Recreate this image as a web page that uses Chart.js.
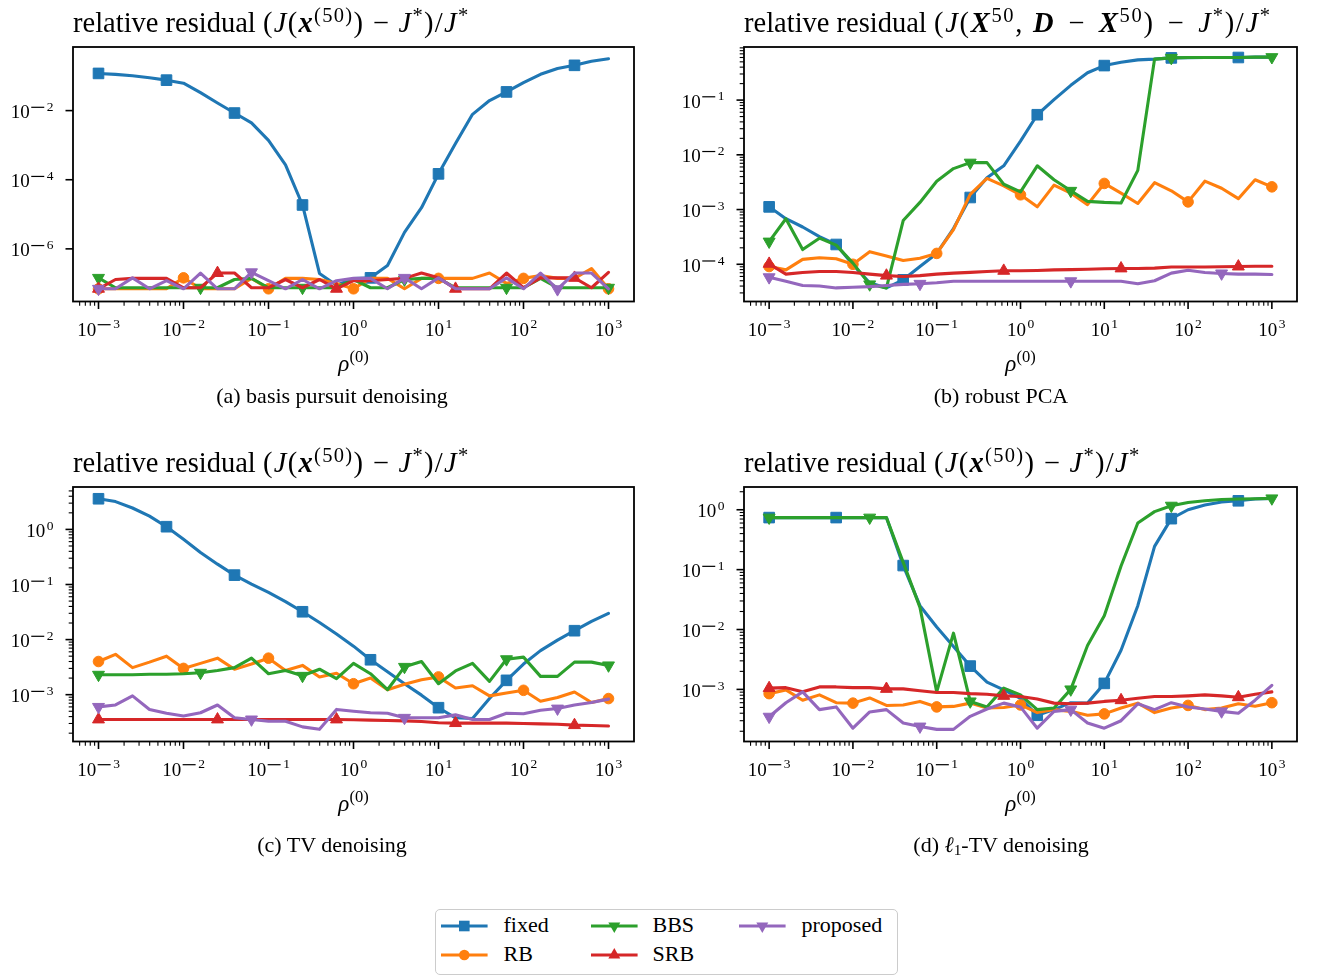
<!DOCTYPE html>
<html><head><meta charset="utf-8">
<script src="https://cdn.jsdelivr.net/npm/chart.js@4.4.1/dist/chart.umd.min.js"></script>
<style>
html,body{margin:0;padding:0;background:#fff;}
#wrap{position:relative;width:1318px;height:977px;overflow:hidden;font-family:"Liberation Serif",serif;color:#000;}
canvas{position:absolute;left:0;top:0;}
.t{position:absolute;white-space:nowrap;line-height:1;}
.sup{position:relative;font-size:0.72em;top:-0.5em;}
.sub{position:relative;font-size:0.7em;top:0.25em;}
.m{letter-spacing:1.3px;}
.mb{letter-spacing:1.7px;}
#legend{position:absolute;left:435px;top:909px;width:463px;height:66px;box-sizing:border-box;border:1.5px solid #cccccc;border-radius:5px;background:#fff;}
</style></head><body><div id="wrap"><div id="legend"></div></div>
<script>
// ---------- data ----------
const rho = [0.001, 0.001585, 0.002512, 0.003981, 0.00631, 0.01, 0.01585, 0.02512, 0.03981, 0.0631, 0.1, 0.1585, 0.2512, 0.3981, 0.631, 1, 1.585, 2.512, 3.981, 6.31, 10, 15.85, 25.12, 39.81, 63.1, 100, 158.5, 251.2, 398.1, 631, 1000];

const seriesNames = ['fixed', 'RB', 'BBS', 'SRB', 'proposed'];

// (a) basis pursuit denoising
const bpdnFixed = [0.119, 0.112, 0.102, 0.089, 0.076, 0.062, 0.033, 0.0166, 0.0085, 0.0044, 1.38e-3, 2.7e-4, 1.86e-5, 1.95e-7, 8.9e-8, 1.38e-7, 1.45e-7, 3.3e-7, 3.0e-6, 1.55e-5, 1.48e-4, 1.12e-3, 7.8e-3, 0.0195, 0.0347, 0.0646, 0.112, 0.166, 0.204, 0.269, 0.316];
const bpdnRB = [7e-8, 7e-8, 7e-8, 7e-8, 7e-8, 1.45e-7, 7e-8, 7e-8, 7e-8, 1.4e-7, 7e-8, 1.4e-7, 1.4e-7, 1.3e-7, 1.0e-7, 7e-8, 1.4e-7, 1.4e-7, 7e-8, 1.4e-7, 1.4e-7, 1.4e-7, 1.4e-7, 2.0e-7, 1.0e-7, 1.4e-7, 1.7e-7, 1.4e-7, 1.4e-7, 2.7e-7, 7e-8];
const bpdnBBS = [1.45e-7, 7.5e-8, 7.5e-8, 7.5e-8, 7.5e-8, 7.5e-8, 7.5e-8, 7.5e-8, 1.3e-7, 1.4e-7, 7.5e-8, 7.5e-8, 7.5e-8, 7.5e-8, 7.5e-8, 1.3e-7, 7.5e-8, 7.5e-8, 1.3e-7, 1.4e-7, 1.4e-7, 7.5e-8, 7.5e-8, 7.5e-8, 7.5e-8, 7.5e-8, 1.4e-7, 7.5e-8, 7.5e-8, 7.5e-8, 7.5e-8];
const bpdnSRB = [7e-8, 1.3e-7, 1.4e-7, 1.4e-7, 1.4e-7, 7.5e-8, 7.5e-8, 2.0e-7, 2.0e-7, 7.5e-8, 7.5e-8, 1.3e-7, 7.5e-8, 1.3e-7, 7e-8, 1.2e-7, 1.2e-7, 1.3e-7, 1.4e-7, 2.0e-7, 1.45e-7, 7e-8, 7e-8, 7e-8, 2.0e-7, 7.5e-8, 1.45e-7, 1.45e-7, 1.45e-7, 7.5e-8, 2.1e-7];
const bpdnProp = [7e-8, 7e-8, 1.45e-7, 7e-8, 1.2e-7, 7e-8, 2.0e-7, 7e-8, 7e-8, 2.1e-7, 1.2e-7, 7e-8, 1.3e-7, 7e-8, 1.2e-7, 1.4e-7, 1.4e-7, 7e-8, 1.45e-7, 7e-8, 1.45e-7, 7e-8, 7e-8, 7e-8, 1.45e-7, 7e-8, 2.0e-7, 6.8e-8, 2.0e-7, 2.0e-7, 7e-8];

// (b) robust PCA
const rpcaFixed = [1.12e-3, 6.8e-4, 4.8e-4, 3.2e-4, 2.3e-4, 9.8e-5, 4.6e-5, 3.7e-5, 5.2e-5, 9.1e-5, 1.58e-4, 4.5e-4, 1.66e-3, 3.8e-3, 6.3e-3, 0.0178, 0.054, 0.102, 0.186, 0.316, 0.427, 0.49, 0.543, 0.56, 0.59, 0.595, 0.6, 0.6, 0.6, 0.61, 0.61];
const rpcaRB = [9.1e-5, 7.9e-5, 1.23e-4, 1.32e-4, 1.26e-4, 1.0e-4, 1.7e-4, 1.41e-4, 1.17e-4, 1.29e-4, 1.58e-4, 4.3e-4, 1.9e-3, 3.7e-3, 2.7e-3, 1.86e-3, 1.12e-3, 2.8e-3, 2.0e-3, 1.23e-3, 3.0e-3, 2.0e-3, 1.29e-3, 3.1e-3, 2.2e-3, 1.38e-3, 3.3e-3, 2.45e-3, 1.58e-3, 3.5e-3, 2.6e-3];
const rpcaBBS = [2.6e-4, 6.8e-4, 1.86e-4, 3.0e-4, 2.24e-4, 1.05e-4, 4.3e-5, 3.7e-5, 6.3e-4, 1.35e-3, 3.3e-3, 5.6e-3, 7.2e-3, 7.2e-3, 2.9e-3, 2.1e-3, 6.3e-3, 3.5e-3, 2.2e-3, 1.41e-3, 1.35e-3, 1.32e-3, 5.2e-3, 0.56, 0.59, 0.6, 0.6, 0.6, 0.6, 0.61, 0.61];
const rpcaSRB = [1.02e-4, 6.6e-5, 7.1e-5, 7.4e-5, 7.4e-5, 7.1e-5, 6.6e-5, 6.2e-5, 6.0e-5, 6.2e-5, 6.6e-5, 6.9e-5, 7.1e-5, 7.4e-5, 7.6e-5, 7.6e-5, 7.7e-5, 7.9e-5, 8.0e-5, 8.1e-5, 8.3e-5, 8.4e-5, 8.4e-5, 8.5e-5, 8.9e-5, 8.9e-5, 8.9e-5, 9.0e-5, 9.1e-5, 9.2e-5, 9.2e-5];
const rpcaProp = [5.8e-5, 4.9e-5, 4.1e-5, 4.0e-5, 3.7e-5, 3.8e-5, 3.9e-5, 4.1e-5, 4.3e-5, 4.4e-5, 4.6e-5, 4.9e-5, 4.9e-5, 4.9e-5, 4.9e-5, 4.9e-5, 4.9e-5, 4.9e-5, 4.9e-5, 4.9e-5, 4.9e-5, 4.9e-5, 4.4e-5, 5.0e-5, 6.9e-5, 7.8e-5, 7.1e-5, 6.8e-5, 6.6e-5, 6.6e-5, 6.5e-5];

// (c) TV denoising
const tvFixed = [3.6, 3.2, 2.45, 1.74, 1.12, 0.66, 0.38, 0.234, 0.148, 0.102, 0.072, 0.049, 0.032, 0.0204, 0.0126, 7.6e-3, 4.3e-3, 2.6e-3, 1.58e-3, 9.8e-4, 5.8e-4, 3.8e-4, 3.7e-4, 8.5e-4, 1.82e-3, 3.6e-3, 6.3e-3, 9.8e-3, 0.0145, 0.0214, 0.030];
const tvRB = [4.0e-3, 5.4e-3, 3.1e-3, 3.9e-3, 5.0e-3, 3.0e-3, 3.7e-3, 4.6e-3, 2.9e-3, 3.6e-3, 4.6e-3, 2.75e-3, 3.4e-3, 2.1e-3, 2.45e-3, 1.58e-3, 2.0e-3, 1.23e-3, 1.55e-3, 1.86e-3, 2.1e-3, 1.32e-3, 1.45e-3, 9.5e-4, 1.07e-3, 1.2e-3, 7.6e-4, 8.9e-4, 1.12e-3, 7.2e-4, 8.5e-4];
const tvBBS = [2.3e-3, 2.3e-3, 2.3e-3, 2.35e-3, 2.35e-3, 2.4e-3, 2.5e-3, 2.75e-3, 3.1e-3, 4.6e-3, 2.4e-3, 2.75e-3, 2.2e-3, 2.9e-3, 1.95e-3, 3.7e-3, 2.4e-3, 1.23e-3, 3.2e-3, 4.0e-3, 1.58e-3, 2.7e-3, 3.7e-3, 1.74e-3, 4.4e-3, 4.8e-3, 2.15e-3, 2.15e-3, 3.9e-3, 3.9e-3, 3.4e-3];
const tvSRB = [3.55e-4, 3.55e-4, 3.55e-4, 3.55e-4, 3.55e-4, 3.55e-4, 3.55e-4, 3.55e-4, 3.55e-4, 3.55e-4, 3.55e-4, 3.55e-4, 3.55e-4, 3.55e-4, 3.55e-4, 3.5e-4, 3.45e-4, 3.4e-4, 3.35e-4, 3.25e-4, 3.1e-4, 3.05e-4, 3.05e-4, 3.05e-4, 3.05e-4, 3.0e-4, 2.95e-4, 2.9e-4, 2.8e-4, 2.75e-4, 2.7e-4];
const tvProp = [6.0e-4, 6.5e-4, 9.5e-4, 5.4e-4, 4.6e-4, 4.1e-4, 4.7e-4, 6.5e-4, 3.8e-4, 3.55e-4, 3.3e-4, 3.3e-4, 2.6e-4, 2.35e-4, 5.4e-4, 5.0e-4, 4.7e-4, 4.6e-4, 3.8e-4, 3.8e-4, 3.8e-4, 4.3e-4, 3.55e-4, 3.55e-4, 4.6e-4, 4.5e-4, 5.2e-4, 5.6e-4, 6.5e-4, 7.2e-4, 8.3e-4];

// (d) l1-TV denoising
const l1tvFixed = [0.74, 0.74, 0.74, 0.74, 0.74, 0.74, 0.74, 0.74, 0.117, 0.025, 0.011, 5.2e-3, 2.45e-3, 1.32e-3, 9.8e-4, 7.1e-4, 3.7e-4, 4.6e-4, 6.0e-4, 5.9e-4, 1.26e-3, 4.5e-3, 0.025, 0.245, 0.71, 1.0, 1.2, 1.35, 1.41, 1.51, 1.55];
const l1tvRB = [8.5e-4, 9.8e-4, 6.6e-4, 8.1e-4, 6.0e-4, 5.9e-4, 7.2e-4, 5.4e-4, 5.5e-4, 6.3e-4, 5.1e-4, 5.2e-4, 5.9e-4, 4.9e-4, 5.0e-4, 5.5e-4, 4.1e-4, 4.6e-4, 4.3e-4, 3.7e-4, 3.9e-4, 4.9e-4, 5.9e-4, 4.1e-4, 4.9e-4, 5.4e-4, 4.6e-4, 4.9e-4, 5.75e-4, 5.25e-4, 6.0e-4];
const l1tvBBS = [0.74, 0.74, 0.74, 0.74, 0.74, 0.74, 0.74, 0.74, 0.132, 0.0234, 9.1e-4, 8.7e-3, 6.3e-4, 5.1e-4, 1.05e-3, 8.1e-4, 4.6e-4, 4.9e-4, 1.0e-3, 5.4e-3, 0.017, 0.115, 0.6, 0.93, 1.17, 1.32, 1.41, 1.48, 1.51, 1.53, 1.55];
const l1tvSRB = [1.05e-3, 1.07e-3, 9.1e-4, 1.1e-3, 1.1e-3, 1.07e-3, 1.07e-3, 1.02e-3, 1.02e-3, 9.5e-4, 8.9e-4, 8.9e-4, 8.5e-4, 8.3e-4, 7.8e-4, 7.6e-4, 6.9e-4, 5.9e-4, 5.75e-4, 5.9e-4, 6.3e-4, 6.6e-4, 7.1e-4, 7.6e-4, 7.6e-4, 7.8e-4, 8.1e-4, 7.8e-4, 7.4e-4, 8.3e-4, 9.1e-4];
const l1tvProp = [3.5e-4, 6.0e-4, 9.1e-4, 4.6e-4, 5.1e-4, 2.25e-4, 4.2e-4, 4.6e-4, 2.75e-4, 2.4e-4, 2.15e-4, 2.15e-4, 3.55e-4, 4.7e-4, 5.9e-4, 5.1e-4, 2.25e-4, 4.3e-4, 4.6e-4, 2.75e-4, 2.25e-4, 3.0e-4, 5.75e-4, 4.6e-4, 6.0e-4, 5.1e-4, 4.7e-4, 4.3e-4, 4.0e-4, 6.6e-4, 1.17e-3];

// tick labels (exponents of 10)
const xTickExps = [-3, -2, -1, 0, 1, 2, 3];
const yTickExpsA = [-2, -4, -6];
const yTickExpsB = [-1, -2, -3, -4];
const yTickExpsC = [0, -1, -2, -3];
const yTickExpsD = [0, -1, -2, -3];

// ---------- styles ----------
const COLORS = ['#1f77b4', '#ff7f0e', '#2ca02c', '#d62728', '#9467bd'];
const STYLES = [
  {pointStyle: 'rect', rot: 0, r: 7.5, every: 4},
  {pointStyle: 'circle', rot: 0, r: 5.3, every: 5},
  {pointStyle: 'triangle', rot: 180, r: 6.9, every: 6},
  {pointStyle: 'triangle', rot: 0, r: 6.9, every: 7},
  {pointStyle: 'triangle', rot: 180, r: 6.9, every: 9}
];
const LINE_W = 3.1;
const TICK_FONT = '19px "Liberation Serif"';
const EXP_FONT = '13.5px "Liberation Serif"';

function drawPow(ctx, exp, x, baseY, align) {
  ctx.font = TICK_FONT;
  const wB = ctx.measureText('10').width;
  const neg = exp < 0;
  const dStr = String(Math.abs(exp));
  ctx.font = EXP_FONT;
  const wD = ctx.measureText(dStr).width;
  const total = wB + 1.5 + (neg ? 15.5 : 0) + wD;
  const x0 = align === 'center' ? x - total / 2 : x - total;
  ctx.fillStyle = '#000';
  ctx.textAlign = 'left';
  ctx.textBaseline = 'alphabetic';
  ctx.font = TICK_FONT;
  ctx.fillText('10', x0, baseY);
  let cx = x0 + wB + 1.5;
  const eY = baseY - 7.2;
  if (neg) { ctx.fillRect(cx, eY - 4.2, 13, 1.2); cx += 15.5; }
  ctx.font = EXP_FONT;
  ctx.fillText(dStr, cx, eY);
}

const mplAxes = {
  id: 'mplAxes',
  afterDraw(chart, args, opts) {
    const ctx = chart.ctx, a = chart.chartArea;
    const xs = chart.scales.x, ys = chart.scales.y;
    ctx.save();
    ctx.strokeStyle = '#000';
    const xmin = xs.min, xmax = xs.max;
    for (let k = -4; k <= 3; k++) {
      for (let m = 1; m <= 9; m++) {
        const v = m * Math.pow(10, k);
        if (v < xmin || v > xmax) continue;
        const px = xs.getPixelForValue(v);
        const major = m === 1;
        ctx.lineWidth = major ? 1.6 : 1.1;
        ctx.beginPath();
        ctx.moveTo(px, a.bottom);
        ctx.lineTo(px, a.bottom + (major ? 7.5 : 4.3));
        ctx.stroke();
      }
    }
    opts.xExps.forEach(e => drawPow(ctx, e, xs.getPixelForValue(Math.pow(10, e)), a.bottom + 34, 'center'));
    const ymin = ys.min, ymax = ys.max;
    opts.yExps.forEach(e => {
      const py = ys.getPixelForValue(Math.pow(10, e));
      ctx.lineWidth = 1.6;
      ctx.beginPath(); ctx.moveTo(a.left, py); ctx.lineTo(a.left - 7.5, py); ctx.stroke();
      drawPow(ctx, e, a.left - 19.5, py + 7.5, 'right');
    });
    if (opts.yMinor) {
      for (let k = -9; k <= 1; k++) {
        for (let m = 2; m <= 9; m++) {
          const v = m * Math.pow(10, k);
          if (v < ymin || v > ymax) continue;
          const py = ys.getPixelForValue(v);
          ctx.lineWidth = 1.1;
          ctx.beginPath(); ctx.moveTo(a.left, py); ctx.lineTo(a.left - 4.3, py); ctx.stroke();
        }
      }
    }
    ctx.lineWidth = 1.8;
    ctx.strokeRect(a.left, a.top, a.right - a.left, a.bottom - a.top);
    ctx.restore();
  }
};

const wrap = document.getElementById('wrap');

function makePanel(box, yLogMin, yLogMax, seriesList, yExps, yMinor) {
  const cv = document.createElement('canvas');
  cv.width = 1318; cv.height = 977;
  cv.style.width = '1318px'; cv.style.height = '977px';
  wrap.appendChild(cv);
  const datasets = seriesList.map((vals, s) => ({
    label: seriesNames[s],
    data: rho.map((x, i) => ({x: x, y: vals[i]})),
    borderColor: COLORS[s],
    backgroundColor: COLORS[s],
    pointBackgroundColor: COLORS[s],
    pointBorderColor: COLORS[s],
    pointBorderWidth: 1,
    borderWidth: LINE_W,
    tension: 0,
    pointStyle: STYLES[s].pointStyle,
    pointRotation: STYLES[s].rot,
    pointRadius: (c) => (c.dataIndex % STYLES[s].every === 0 ? STYLES[s].r : 0),
    order: 4 - s,
    borderJoinStyle: 'round',
    borderCapStyle: 'round'
  }));
  new Chart(cv, {
    type: 'line',
    data: {datasets},
    options: {
      responsive: false,
      animation: false,
      events: [],
      layout: {padding: {left: box.l, top: box.t, right: 1318 - box.r, bottom: 977 - box.b}},
      scales: {
        x: {type: 'logarithmic', min: Math.pow(10, -3.3), max: Math.pow(10, 3.3), display: false},
        y: {type: 'logarithmic', min: Math.pow(10, yLogMin), max: Math.pow(10, yLogMax), display: false}
      },
      plugins: {
        legend: {display: false},
        tooltip: {enabled: false},
        mplAxes: {xExps: xTickExps, yExps: yExps, yMinor: yMinor}
      }
    },
    plugins: [mplAxes]
  });
}

makePanel({l: 73, r: 634, t: 47, b: 301.5}, -7.52, -0.16, [bpdnFixed, bpdnRB, bpdnBBS, bpdnSRB, bpdnProp], yTickExpsA, false);
makePanel({l: 744, r: 1297, t: 47, b: 301.5}, -4.68, -0.03, [rpcaFixed, rpcaRB, rpcaBBS, rpcaSRB, rpcaProp], yTickExpsB, true);
makePanel({l: 73, r: 634, t: 487, b: 741.5}, -3.85, 0.77, [tvFixed, tvRB, tvBBS, tvSRB, tvProp], yTickExpsC, true);
makePanel({l: 744, r: 1297, t: 487, b: 741.5}, -3.87, 0.38, [l1tvFixed, l1tvRB, l1tvBBS, l1tvSRB, l1tvProp], yTickExpsD, true);

// ---------- HTML text ----------
function addText(html, x, baseline, size, align) {
  const d = document.createElement('div');
  d.className = 't';
  d.style.fontSize = size + 'px';
  d.style.top = (baseline - 0.8375 * size) + 'px';
  if (align === 'center') {
    d.style.left = (x - 600) + 'px'; d.style.width = '1200px'; d.style.textAlign = 'center';
  } else {
    d.style.left = x + 'px';
  }
  d.innerHTML = html;
  wrap.appendChild(d);
  return d;
}
const titleX = 'relative residual <span class="m">(<i>J</i>(<b><i>x</i></b><span class="sup">(50)</span>) − <i>J</i><span class="sup">*</span>)/<i>J</i><span class="sup">*</span></span>';
const titleB = 'relative residual <span class="mb">(<i>J</i>(<b><i>X</i></b><span class="sup">50</span>, <b><i>D</i></b>&#8202; − &#8202;<b><i>X</i></b><span class="sup">50</span>)&#8202; − &#8202;<i>J</i><span class="sup">*</span>)/<i>J</i><span class="sup">*</span></span>';
const rhoLabel = '<i>ρ</i><span class="sup">(0)</span>';
addText(titleX, 73, 33, 28.5, 'left');
addText(titleB, 744, 33, 28.5, 'left');
addText(titleX, 73, 473, 28.5, 'left');
addText(titleX, 744, 473, 28.5, 'left');
addText(rhoLabel, 353.5, 371, 23, 'center');
addText(rhoLabel, 1020.5, 371, 23, 'center');
addText(rhoLabel, 353.5, 811, 23, 'center');
addText(rhoLabel, 1020.5, 811, 23, 'center');
addText('(a) basis pursuit denoising', 332, 403, 22, 'center');
addText('(b) robust PCA', 1001, 403, 22, 'center');
addText('(c) TV denoising', 332, 852, 22, 'center');
addText('(d) <i>ℓ</i><span class="sub">1</span>-TV denoising', 1001, 852, 22, 'center');

// ---------- legend ----------
const legend = document.getElementById('legend');
const legPos = [
  {hx: 441.7, tx: 504, y: 926},
  {hx: 441.7, tx: 504, y: 955},
  {hx: 591.7, tx: 653, y: 926},
  {hx: 591.7, tx: 653, y: 955},
  {hx: 739.3, tx: 802, y: 926}
];
function markerSvg(s, cx, cy) {
  const c = COLORS[s], st = STYLES[s];
  if (st.pointStyle === 'rect') { const h = st.r * Math.SQRT1_2; return `<rect x="${cx - h}" y="${cy - h}" width="${2 * h}" height="${2 * h}" fill="${c}"/>`; }
  if (st.pointStyle === 'circle') return `<circle cx="${cx}" cy="${cy}" r="${st.r}" fill="${c}"/>`;
  const r = st.r, w = r * 0.866;
  if (st.rot === 180) return `<polygon points="${cx - w},${cy - r / 2} ${cx + w},${cy - r / 2} ${cx},${cy + r}" fill="${c}"/>`;
  return `<polygon points="${cx - w},${cy + r / 2} ${cx + w},${cy + r / 2} ${cx},${cy - r}" fill="${c}"/>`;
}
seriesNames.forEach((name, s) => {
  const p = legPos[s];
  const svg = document.createElementNS('http://www.w3.org/2000/svg', 'svg');
  svg.setAttribute('width', '50'); svg.setAttribute('height', '20');
  svg.style.position = 'absolute';
  svg.style.left = (p.hx - 435 - 1.5) + 'px';
  svg.style.top = (p.y - 10 - 909 - 1.5) + 'px';
  svg.innerHTML = `<line x1="0" y1="10" x2="46.6" y2="10" stroke="${COLORS[s]}" stroke-width="${LINE_W}"/>` + markerSvg(s, 23.3, 10);
  legend.appendChild(svg);
  const d = document.createElement('div');
  d.className = 't';
  d.style.fontSize = '22px';
  d.style.left = (p.tx - 435 - 1.5) + 'px';
  d.style.top = (p.y + 7 - 0.8375 * 22 - 909 - 1.5) + 'px';
  d.textContent = name;
  legend.appendChild(d);
});
</script>
</body></html>
